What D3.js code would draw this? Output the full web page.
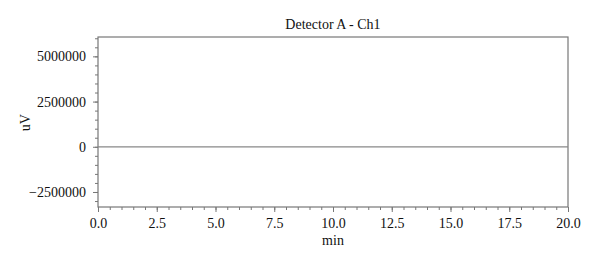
<!DOCTYPE html>
<html>
<head>
<meta charset="utf-8">
<script src="https://cdn.jsdelivr.net/npm/d3@7"></script>
<style>
  body { margin: 0; background: #fff; }
  svg text { font-family: "Liberation Serif", "DejaVu Serif", serif; fill: #111; }
  .axis path, .axis line { stroke: #777; }
</style>
</head>
<body>
<div id="chart"></div>
<script>
// Data: a flat baseline trace
const timeMin = [0, 2.5, 5, 7.5, 10, 12.5, 15, 17.5, 20];
const signalUV = [0, 0, 0, 0, 0, 0, 0, 0, 0];
const xTicks = [0, 2.5, 5, 7.5, 10, 12.5, 15, 17.5, 20];
const xMinorTicks = d3.range(0, 20.01, 0.5);
const yTicks = [-2500000, 0, 2500000, 5000000];
const yMinorTicks = d3.range(-3000000, 6000001, 500000);

//Margin
const margin = { top: 37, right: 32, bottom: 57, left: 98 };
const width = 600 - margin.left - margin.right;
const height = 264 - margin.top - margin.bottom;

const svg = d3.select("#chart")
  .append("svg")
  .attr("width", 600)
  .attr("height", 264);

const g = svg.append("g")
  .attr("transform", "translate(" + margin.left + "," + margin.top + ")");

//Scales
const x = d3.scaleLinear().domain([0, 20]).range([0, width]);
const y = d3.scaleLinear().domain([-3330000, 6070000]).range([height, 0]);

//Frame
g.append("rect")
  .attr("width", width)
  .attr("height", height)
  .attr("fill", "none")
  .attr("stroke", "#777")
  .attr("stroke-width", 1.2);

//Minor ticks
g.append("g")
  .attr("class", "axis")
  .attr("transform", "translate(0," + height + ")")
  .call(d3.axisBottom(x).tickValues(xMinorTicks).tickSize(3).tickFormat(""))
  .call(s => s.select(".domain").remove());
g.append("g")
  .attr("class", "axis")
  .call(d3.axisLeft(y).tickValues(yMinorTicks).tickSize(3).tickFormat(""))
  .call(s => s.select(".domain").remove());

//Major axes
g.append("g")
  .attr("class", "axis")
  .attr("transform", "translate(0," + height + ")")
  .call(d3.axisBottom(x).tickValues(xTicks).tickSize(5).tickPadding(6)
    .tickFormat(d3.format(".1f")))
  .call(s => s.select(".domain").remove())
  .selectAll("text").style("font-size", "14px");
g.append("g")
  .attr("class", "axis")
  .call(d3.axisLeft(y).tickValues(yTicks).tickSize(5).tickPadding(7)
    .tickFormat(d => d < 0 ? "\u2212" + Math.abs(d) : d))
  .call(s => s.select(".domain").remove())
  .selectAll("text").style("font-size", "14px");

//Trace
const line = d3.line()
  .x((d, i) => x(timeMin[i]))
  .y(d => y(d));
g.append("path")
  .datum(signalUV)
  .attr("d", line)
  .attr("fill", "none")
  .attr("stroke", "#888")
  .attr("stroke-width", 1.2);

//Titles
g.append("text")
  .attr("x", width / 2)
  .attr("y", -8)
  .attr("text-anchor", "middle")
  .style("font-size", "14px")
  .text("Detector A - Ch1");

g.append("text")
  .attr("x", width / 2)
  .attr("y", height + 38)
  .attr("text-anchor", "middle")
  .style("font-size", "14px")
  .text("min");

g.append("text")
  .attr("transform", "rotate(-90)")
  .attr("x", -y(0) + 24)
  .attr("y", -68)
  .attr("text-anchor", "middle")
  .style("font-size", "14px")
  .text("uV");
</script>
</body>
</html>
